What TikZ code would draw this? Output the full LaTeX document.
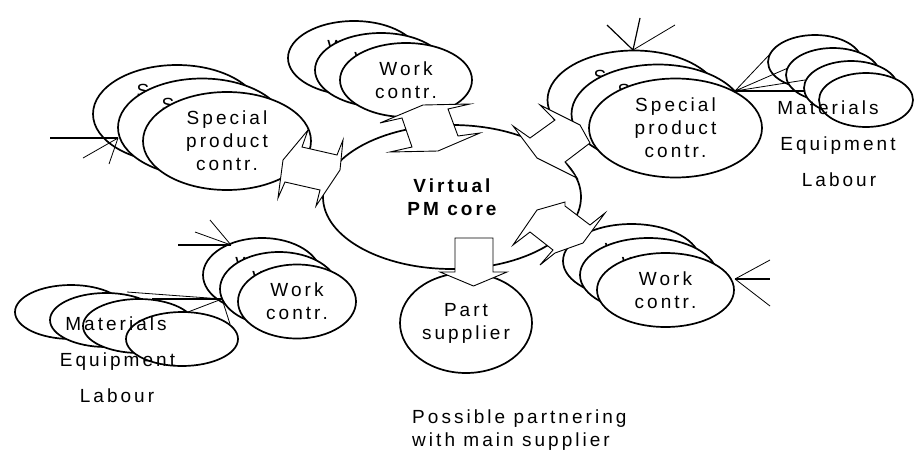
\documentclass[tikz,border=0pt]{standalone}
\usepackage{fontspec}
\setmainfont{Liberation Sans}[LetterSpace=16]
\usetikzlibrary{shapes.geometric}
\newcommand\dtext{\fontsize{19}{23}\selectfont}
\begin{document}
\begin{tikzpicture}[x=1pt,y=-1pt,
  ell/.style={ellipse, draw, line width=1.7pt, fill=white, inner sep=0pt, align=center, font=\dtext},
  thinline/.style={line width=0.8pt},
  thickline/.style={line width=2.2pt},
  barrow/.style={draw, fill=white, line width=0.9pt, line join=miter},
  lbl/.style={font=\dtext, inner sep=0pt, anchor=base}]
\useasboundingbox (0,0) rectangle (915,450);
% core
\node[ell, minimum width=258pt, minimum height=144pt, font=\dtext\bfseries] (core) at (452,197) {Virtual\\PM core};
% group 1: special product (left)
\node[ell, minimum width=168pt, minimum height=98pt] (g1c) at (177,114) {Special\\product\\contr.};
\node[ell, minimum width=168pt, minimum height=98pt] (g1b) at (202,127.5) {Special\\product\\contr.};
\node[ell, minimum width=168pt, minimum height=98pt] (g1a) at (227,141) {Special\\product\\contr.};
% group 2: work (top)
\node[ell, minimum width=132pt, minimum height=74pt] (g2c) at (354,58) {Work\\contr.};
\node[ell, minimum width=132pt, minimum height=74pt] (g2b) at (381,70) {Work\\contr.};
\node[ell, minimum width=132pt, minimum height=74pt] (g2a) at (406,80) {Work\\contr.};
% group 3: special product (right)
\node[ell, minimum width=173pt, minimum height=99pt] (g3c) at (634,100) {Special\\product\\contr.};
\node[ell, minimum width=173pt, minimum height=99pt] (g3b) at (658,114) {Special\\product\\contr.};
\node[ell, minimum width=173pt, minimum height=99pt] (g3a) at (675.5,128) {Special\\product\\contr.};
% group 4: work (lower left)
\node[ell, minimum width=118pt, minimum height=74pt] (g4c) at (262,275) {Work\\contr.};
\node[ell, minimum width=118pt, minimum height=74pt] (g4b) at (279,289) {Work\\contr.};
\node[ell, minimum width=118pt, minimum height=74pt] (g4a) at (297,301.5) {Work\\contr.};
% group 5: work (lower right)
\node[ell, minimum width=137pt, minimum height=74pt] (g5c) at (631.5,261) {Work\\contr.};
\node[ell, minimum width=137pt, minimum height=74pt] (g5b) at (648.5,275) {Work\\contr.};
\node[ell, minimum width=137pt, minimum height=74pt] (g5a) at (665.5,290) {Work\\contr.};
% part supplier
\node[ell, minimum width=132pt, minimum height=100pt] (ps) at (466,323) {Part\\supplier};
% resources top right
\node[ell, minimum width=94pt, minimum height=54pt] (m1) at (815,62) {};
\node[ell, minimum width=94pt, minimum height=54pt] (m2) at (833,75) {};
\node[ell, minimum width=94pt, minimum height=54pt] (m3) at (851,88) {};
\node[ell, minimum width=94pt, minimum height=54pt] (m4) at (866,100) {};
% resources lower left
\node[ell, minimum width=112pt, minimum height=54pt] (n1) at (71,312) {};
\node[ell, minimum width=112pt, minimum height=54pt] (n2) at (106,320) {};
\node[ell, minimum width=112pt, minimum height=54pt] (n3) at (139,326) {};
\node[ell, minimum width=112pt, minimum height=54pt] (n4) at (182,339) {};
% fans
\coordinate (k1) at (118,138);
\coordinate (k1a) at (50,138); \coordinate (k1b) at (83,158); \coordinate (k1c) at (109,164);
\draw[thickline] (k1) -- (k1a);
\draw[thinline] (k1) -- (k1b) (k1) -- (k1c);
\coordinate (k3) at (633,50);
\coordinate (k3a) at (607,25); \coordinate (k3b) at (640,18); \coordinate (k3c) at (675,25);
\draw[line width=1.2pt] (k3) -- (k3a) (k3) -- (k3b);
\draw[thinline] (k3) -- (k3c);
\coordinate (k4) at (735,91);
\coordinate (k4a) at (804,91); \coordinate (k4b) at (770,54); \coordinate (k4c) at (788,68); \coordinate (k4d) at (805,80);
\draw[thickline] (k4) -- (k4a);
\draw[thinline] (k4) -- (k4b) (k4) -- (k4c) (k4) -- (k4d);
\coordinate (k7) at (231,245);
\coordinate (k7a) at (178,245); \coordinate (k7b) at (195,232); \coordinate (k7c) at (210,220);
\draw[thickline] (k7) -- (k7a);
\draw[thinline] (k7) -- (k7b) (k7) -- (k7c);
\coordinate (k5) at (222,299);
\coordinate (k5a) at (152,299); \coordinate (k5b) at (127,292); \coordinate (k5c) at (188,312); \coordinate (k5d) at (230,324);
\draw[thickline] (k5) -- (k5a);
\draw[thinline] (k5) -- (k5b) (k5) -- (k5c) (k5) -- (k5d);
\coordinate (k6) at (735,279);
\coordinate (k6a) at (770,279); \coordinate (k6b) at (770,260); \coordinate (k6c) at (770,306);
\draw[thickline] (k6) -- (k6a);
\draw[thinline] (k6) -- (k6b) (k6) -- (k6c);
% block arrows
\draw[barrow] (308,130) -- (302,147) -- (337,155) -- (343,140) -- (340,170) -- (316,206) -- (320,190) -- (285,182) -- (278,198) -- (283,160) -- cycle;
\draw[barrow] (423,105) -- (470,104) -- (448,109) -- (458,136) -- (480,133) -- (438,151) -- (390,152) -- (412,147) -- (402,118) -- (380,123) -- cycle;
\draw[barrow] (540,105) -- (580,125) -- (590,143) -- (565,162) -- (577,178) -- (537,158) -- (513,126) -- (530,138) -- (555,120) -- cycle;
\draw[barrow] (513,245) -- (537,210) -- (565,202) -- (565,206) -- (590,225) -- (605,213) -- (583,243) -- (555,253) -- (540,265) -- (553,250) -- (530,232) -- cycle;
\draw[barrow] (455,238) -- (493,238) -- (493,272) -- (507,272) -- (473.5,286) -- (440,272) -- (455,272) -- cycle;
% labels
\node[lbl] (mt1) at (828,114) {Materials};
\node[lbl] (mt2) at (838,150) {Equipment};
\node[lbl] (mt3) at (839,186) {Labour};
\node[lbl] (ml1) at (116,330) {Materials};
\node[lbl] (ml2) at (117.5,366) {Equipment};
\node[lbl] (ml3) at (117,402) {Labour};
\node[lbl, anchor=base west] (pp1) at (412,423) {Possible partnering};
\node[lbl, anchor=base west] (pp2) at (412,446) {with main supplier};
\end{tikzpicture}
\end{document}
